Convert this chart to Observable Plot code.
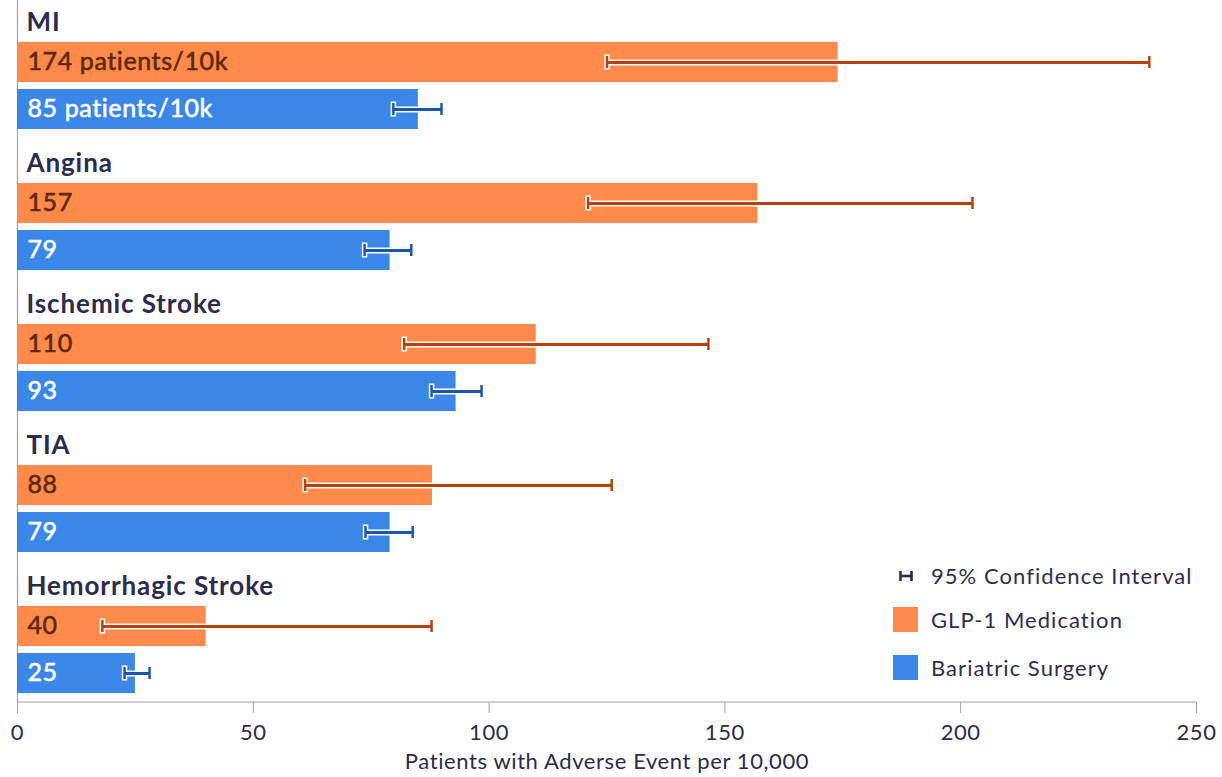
<!DOCTYPE html>
<html>
<head>
<meta charset="utf-8">
<script src="https://cdn.jsdelivr.net/npm/d3@7"></script>
<script src="https://cdn.jsdelivr.net/npm/@observablehq/plot@0.6"></script>
<style>
  html, body { margin: 0; padding: 0; background: #fff; }
  #wrap { position: relative; width: 1222px; height: 777px; font-family: Lato, sans-serif; }
  #legend { position: absolute; left: 893px; top: 563px; color: #2e2e4d; font-size: 22px; letter-spacing: 1.05px; }
  .li { display: flex; align-items: center; height: 25px; position: absolute; left: 0; white-space: nowrap; }
  .sw { width: 25px; height: 25px; margin-right: 13px; flex: none; }
  g[font-size="26"] text { letter-spacing: 0.9px; }
  g[font-size="25"] text { letter-spacing: 0.6px; }
  g[font-size="22"] text { letter-spacing: 0.6px; }
</style>
</head>
<body>
<div id="wrap">
  <div id="chart"></div>
  <div id="legend"></div>
</div>
<script>
const categories = ["MI", "Angina", "Ischemic Stroke", "TIA", "Hemorrhagic Stroke"];
const glp1 = [174, 157, 110, 88, 40];
const glp1Low = [125, 121, 82, 61, 18];
const glp1High = [240, 202.5, 146.5, 126, 87.8];
const bariatric = [85, 79, 93, 79, 25];
const bariatricLow = [79.7, 73.6, 87.8, 73.8, 22.7];
const bariatricHigh = [89.9, 83.5, 98.4, 83.8, 28];
const xTicks = [0, 50, 100, 150, 200, 250];
const seriesNames = ["GLP-1 Medication", "Bariatric Surgery"];
const legendCI = "95% Confidence Interval";
const xLabel = "Patients with Adverse Event per 10,000";

const colors = {
  "GLP-1 Medication": {fill: "#ff8a4c", dark: "#b6410d", text: "#5e290b"},
  "Bariatric Surgery": {fill: "#3b87e8", dark: "#1b56ae", text: "#ffffff"}
};

const rows = [];
const domain = [];
const labelRows = [];
categories.forEach((c, i) => {
  domain.push(c + "|label", c + "|" + seriesNames[0], c + "|" + seriesNames[1]);
  labelRows.push({row: c + "|label", label: c});
  rows.push({row: c + "|" + seriesNames[0], series: seriesNames[0], value: glp1[i], low: glp1Low[i], high: glp1High[i],
    text: i === 0 ? glp1[i] + " patients/10k" : String(glp1[i])});
  rows.push({row: c + "|" + seriesNames[1], series: seriesNames[1], value: bariatric[i], low: bariatricLow[i], high: bariatricHigh[i],
    text: i === 0 ? bariatric[i] + " patients/10k" : String(bariatric[i])});
});

const chart = Plot.plot({
  width: 1222,
  height: 777,
  marginLeft: 17,
  marginRight: 26,
  marginTop: 0,
  marginBottom: 75,
  style: {fontFamily: "Lato, sans-serif", background: "#fff"},
  x: {domain: [0, 250], ticks: xTicks},
  y: {domain, range: [-14.4, 702], paddingInner: 0.152, paddingOuter: 0.17, axis: null},
  marks: [
    Plot.ruleX([0], {stroke: "#a0a0a0", strokeWidth: 1.2}),
    Plot.barX(rows, {x1: 0, x2: "value", y: "row", fill: d => colors[d.series].fill}),
    Plot.text(rows, {x: 0, y: "row", text: "text", textAnchor: "start", dx: 10, dy: -1,
      fill: d => colors[d.series].text, stroke: d => colors[d.series].text, strokeWidth: 0.6, fontSize: 25}),
    Plot.text(labelRows, {x: 0, y: "row", text: "label", textAnchor: "start", dx: 9, dy: 7,
      fill: "#2b2b4d", fontSize: 26, fontWeight: "bold"}),
    // error bar halos
    Plot.ruleY(rows, {x1: "low", x2: "high", y: "row", stroke: "#fff", strokeWidth: 6}),
    Plot.tickX(rows, {x: "low", y: "row", stroke: "#fff", strokeWidth: 5.5, insetTop: 12.5, insetBottom: 12.5}),
    // error bars
    Plot.ruleY(rows, {x1: "low", x2: "high", y: "row", stroke: d => colors[d.series].dark, strokeWidth: 3}),
    Plot.tickX(rows, {x: "low", y: "row", stroke: d => colors[d.series].dark, strokeWidth: 2.5, insetTop: 14, insetBottom: 14}),
    Plot.tickX(rows, {x: "high", y: "row", stroke: d => colors[d.series].dark, strokeWidth: 2.5, insetTop: 14, insetBottom: 14}),
    Plot.axisX({ticks: xTicks, tickSize: 11, tickPadding: 11, fontSize: 22, color: "#2b2b4d", stroke: "#a0a0a0",
      label: xLabel, labelAnchor: "center", labelArrow: "none", labelOffset: 66})
  ]
});
document.getElementById("chart").appendChild(chart);

// bottom axis line drawn from the scales
const xr = chart.scale("x").range;
d3.select(chart).append("line")
  .attr("x1", xr[0]).attr("x2", xr[1])
  .attr("y1", 702).attr("y2", 702)
  .attr("stroke", "#a0a0a0").attr("stroke-width", 1.2);

// legend
const leg = document.getElementById("legend");
const tops = [0, 44, 92];
leg.innerHTML =
  `<div class="li" style="top:${tops[0]}px"><svg class="sw" viewBox="0 0 25 25"><g stroke="#2b2b4d" stroke-width="2.6">
     <line x1="7" x2="19" y1="13" y2="13"/><line x1="7.5" x2="7.5" y1="8" y2="18"/><line x1="18.5" x2="18.5" y1="8" y2="18"/></g></svg>${legendCI}</div>` +
  seriesNames.map((s, i) => `<div class="li" style="top:${tops[i + 1]}px"><div class="sw" style="background:${colors[s].fill}"></div>${s}</div>`).join("");
</script>
</body>
</html>
